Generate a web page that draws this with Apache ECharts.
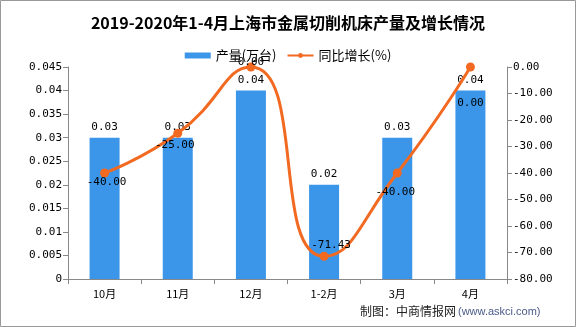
<!DOCTYPE html>
<html>
<head>
<meta charset="utf-8">
<script src="https://cdn.jsdelivr.net/npm/echarts@6/dist/echarts.min.js"></script>
<style>
html,body{margin:0;padding:0;background:#fff;}
#chart{width:576px;height:327px;}
</style>
</head>
<body>
<div id="chart"></div>
<script>
// Monthly output of metal-cutting machine tools in Shanghai and year-on-year change
const categories = ['10月', '11月', '12月', '1-2月', '3月', '4月'];
const outputValues = [0.03, 0.03, 0.04, 0.02, 0.03, 0.04];
const growthValues = [-40.00, -25.00, 0.00, -71.43, -40.00, 0.00];

// pixel nudges for the growth labels so they clear the bars and bar labels
const growthLabelOffsets = [[2, 9], [-3, 12], [0, -5], [7, -11], [-2, 19], [0, 36]];

const chart = echarts.init(document.getElementById('chart'));
const cjk = "'Noto Sans CJK SC', sans-serif";
const mono = "'DejaVu Sans Mono', 'Liberation Mono', monospace";

chart.setOption({
  animation: false,
  backgroundColor: '#fff',
  title: {
    text: '2019-2020年1-4月上海市金属切削机床产量及增长情况',
    left: 'center',
    top: 10,
    textStyle: { fontFamily: cjk, fontSize: 16, fontWeight: 'bold', color: '#000' }
  },
  legend: {
    top: 44,
    left: 'center',
    itemGap: 10,
    itemWidth: 26,
    itemHeight: 6,
    textStyle: { fontFamily: cjk, fontSize: 13, color: '#000' },
    data: [
      { name: '产量(万台)', icon: 'rect' },
      { name: '同比增长(%)' }
    ]
  },
  grid: { left: 68, right: 69, top: 67, bottom: 48 },
  xAxis: {
    type: 'category',
    data: categories,
    axisLine: { lineStyle: { color: '#888' } },
    axisTick: { show: true, lineStyle: { color: '#888' } },
    axisLabel: { fontFamily: cjk, fontSize: 11, color: '#000', margin: 9 }
  },
  yAxis: [
    {
      type: 'value',
      min: 0, max: 0.045, interval: 0.005,
      axisLine: { show: true, lineStyle: { color: '#888' } },
      axisTick: { show: true, lineStyle: { color: '#888' } },
      splitLine: { show: false },
      axisLabel: { fontFamily: mono, fontSize: 11, color: '#000', margin: 6 }
    },
    {
      type: 'value',
      min: -80, max: 0, interval: 10,
      axisLine: { show: true, lineStyle: { color: '#888' } },
      axisTick: { show: true, lineStyle: { color: '#888' } },
      splitLine: { show: false },
      axisLabel: {
        fontFamily: mono, fontSize: 11, color: '#000', margin: 6,
        formatter: v => v.toFixed(2)
      }
    }
  ],
  series: [
    {
      name: '产量(万台)',
      type: 'bar',
      yAxisIndex: 0,
      barWidth: 30,
      data: outputValues,
      itemStyle: { color: '#3b96ea' },
      label: {
        show: true, position: 'top', distance: 5,
        fontFamily: mono, fontSize: 11, color: '#000',
        formatter: p => p.value.toFixed(2)
      },
      z: 2
    },
    {
      name: '同比增长(%)',
      type: 'line',
      yAxisIndex: 1,
      smooth: 0.55,
      symbol: 'circle',
      symbolSize: 9,
      data: growthValues.map((v, i) => ({
        value: v,
        label: { offset: growthLabelOffsets[i] }
      })),
      lineStyle: { color: '#f26a21', width: 3 },
      itemStyle: { color: '#f26a21' },
      label: {
        show: true, position: 'inside',
        fontFamily: mono, fontSize: 11, color: '#000',
        formatter: p => p.value.toFixed(2)
      },
      z: 3
    }
  ],
  graphic: [
    {
      type: 'rect',
      shape: { x: 0.5, y: 0.5, width: 575, height: 326 },
      style: { fill: 'none', stroke: '#999', lineWidth: 1 },
      silent: true
    },
    {
      type: 'text',
      left: 360, top: 305,
      style: { text: '制图：中商情报网', font: "12px 'Noto Sans CJK SC'", fill: '#222' }
    },
    {
      type: 'text',
      left: 458, top: 306,
      style: { text: '(www.askci.com)', font: "11px 'Liberation Sans'", fill: '#4a5a8a' }
    }
  ]
});
</script>
</body>
</html>
